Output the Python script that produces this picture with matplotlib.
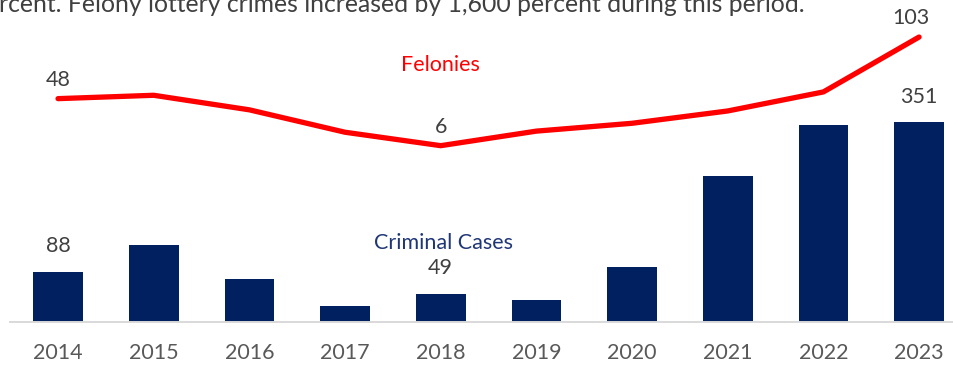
import numpy as np
import matplotlib
matplotlib.use("Agg")
import matplotlib.pyplot as plt

plt.rcParams['font.family'] = ['Lato', 'DejaVu Sans']

years = ["2014", "2015", "2016", "2017", "2018", "2019", "2020", "2021", "2022", "2023"]
criminal_cases = [88, 135, 76, 28, 49, 38, 96, 257, 347, 351]
felonies = [48, 51, 38, 18, 6, 19, 26, 37, 54, 103]

# only these points carry a value label
case_labels = {0: 88, 4: 49, 9: 351}
felony_labels = {0: 48, 4: 6, 9: 103}

NAVY = "#002060"
RED = "#FF0000"
TEXT = "#404040"
TICK = "#595959"
FS = 15.5

W, H = 954, 365
fig = plt.figure(figsize=(W / 100, H / 100), dpi=100)

base_y = 321.7
left_px = 10.2
step_px = 95.67
ax = fig.add_axes([left_px / W, (H - base_y) / H, 10 * step_px / W, base_y / H])
x = np.arange(len(years))

ax.bar(x, criminal_cases, width=0.52, color=NAVY, zorder=2)
ax.set_xlim(-0.5, 9.5)
ax.set_ylim(0, base_y / 0.568)

for s in ["top", "left", "right"]:
    ax.spines[s].set_visible(False)
ax.spines["bottom"].set_color("#D9D9D9")
ax.spines["bottom"].set_linewidth(1.4)
ax.set_yticks([])
ax.set_xticks(x)
ax.set_xticklabels(years)
ax.tick_params(axis="x", length=0, pad=15.5, labelsize=FS, labelcolor=TICK)

for i, v in case_labels.items():
    ax.annotate(str(v), (x[i], criminal_cases[i]), xytext=(0, 18.4),
                textcoords="offset points", ha="center", va="center",
                fontsize=FS, color=TEXT)

# felonies on their own scale
ax2 = ax.twinx()
ax2.plot(x, felonies, color=RED, lw=3.8, solid_capstyle="round",
         solid_joinstyle="round", zorder=3)
ax2.set_ylim(-(base_y - 152.4) / 1.12, 152.4 / 1.12)
ax2.set_yticks([])
for s in ax2.spines.values():
    s.set_visible(False)

for i, v in felony_labels.items():
    ax2.annotate(str(v), (x[i] - (0.08 if i == 9 else 0), felonies[i]),
                 xytext=(0, 13.7), textcoords="offset points",
                 ha="center", va="center", fontsize=FS, color=TEXT)

ax2.text(4.0, 78, "Felonies", ha="center", va="center", fontsize=FS, color=RED)
ax.text(4.03, 139, "Criminal Cases", ha="center", va="center", fontsize=FS,
        color="#1F3677")

fig.text(-1 / W, 1 - 11.5 / H,
         "rcent. Felony lottery crimes increased by 1,600 percent during this period.",
         ha="left", va="baseline", fontsize=17.8, color=TEXT)

fig.savefig("out.png", dpi=100)
